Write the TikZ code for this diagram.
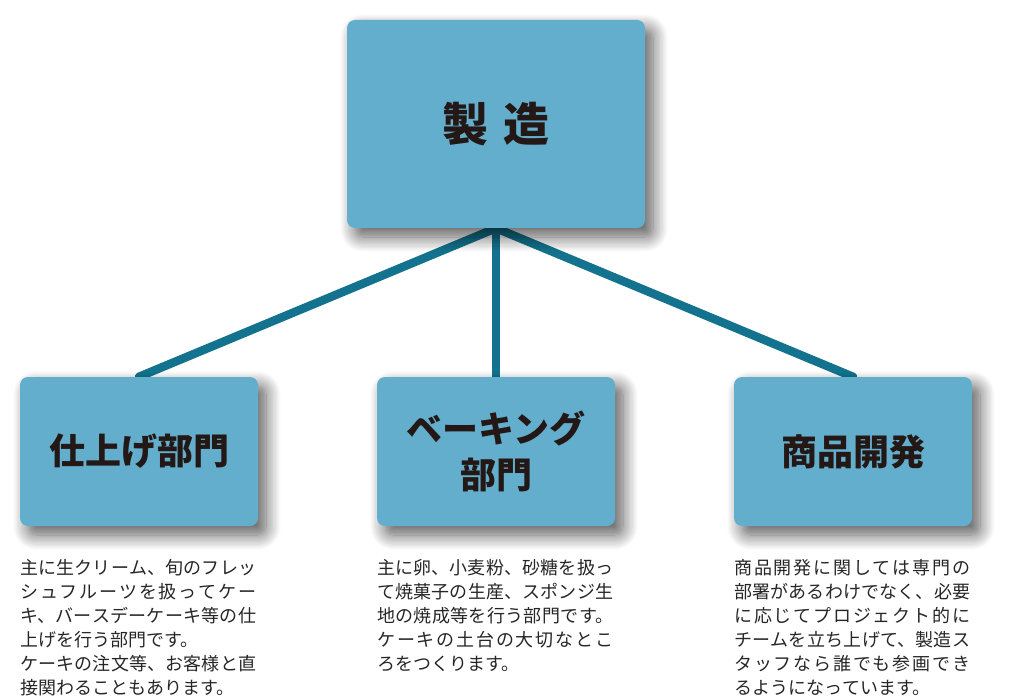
\documentclass[tikz,border=0pt]{standalone}
\usepackage{fontspec}
\newfontfamily\jp{Noto Sans CJK JP}
\usetikzlibrary{backgrounds,shadows.blur}
\XeTeXlinebreaklocale "ja"
\XeTeXlinebreakskip=0pt plus 10pt
\hbadness=10000
\setlength{\parindent}{0pt}
\definecolor{bleu}{HTML}{64AECD}
\definecolor{bleufonce}{HTML}{13738F}
\definecolor{encre}{HTML}{231815}

\begin{document}
\begin{tikzpicture}[x=1pt,y=-1pt]
  \tikzstyle{boite}=[rounded corners=8pt,fill=bleu,inner sep=0pt,text=encre,align=center,
    minimum width=238pt,minimum height=149pt,
    font=\jp\bfseries\fontsize{36}{46}\selectfont,
    blur shadow={shadow xshift=8pt,shadow yshift=-9pt,shadow blur radius=15pt,shadow opacity=65,shadow blur steps=12}]
  \tikzstyle{texte}=[anchor=north west,inner sep=0pt,text width=236pt,align=justify,
    text=black!85,font=\jp\fontsize{18}{24}\selectfont]
  \tikzstyle{lien}=[line width=8.5pt,line cap=round,draw=bleufonce]
  \useasboundingbox (0,0) rectangle (1016,700);
  % Boites
  \node[boite,minimum width=298pt,minimum height=208pt,font=\jp\bfseries\fontsize{46}{46}\selectfont]
    (fab) at (496,124) {製\hspace{15pt}造};
  \node[boite] (fin) at (139,451.5) {仕上げ部門};
  \node[boite] (bak) at (496,451.5) {ベーキング\\部門};
  \node[boite] (dev) at (853,451.5) {商品開発};
  % Liens (derriere)
  \begin{scope}[on background layer]
    \draw[lien] (fab.south) -- (fin.north);
    \draw[lien] (fab.south) -- (bak.north);
    \draw[lien] (fab.south) -- (dev.north);
  \end{scope}
  % Textes
  \node[texte] (tfin) at (20,559) {主に生クリーム、旬のフレッ\linebreak シュフルーツを扱ってケー\linebreak キ、バースデーケーキ等の仕\linebreak 上げを行う部門です。\par ケーキの注文等、お客様と直\linebreak 接関わることもあります。};
  \node[texte] (tbak) at (377,559) {主に卵、小麦粉、砂糖を扱っ\linebreak て焼菓子の生産、スポンジ生\linebreak 地の焼成等を行う部門です。\linebreak ケーキの土台の大切なとこ\linebreak ろをつくります。};
  \node[texte] (tdev) at (734,559) {商品開発に関しては専門の\linebreak 部署があるわけでなく、必要\linebreak に応じてプロジェクト的に\linebreak チームを立ち上げて、製造ス\linebreak タッフなら誰でも参画でき\linebreak るようになっています。};
\end{tikzpicture}
\end{document}
